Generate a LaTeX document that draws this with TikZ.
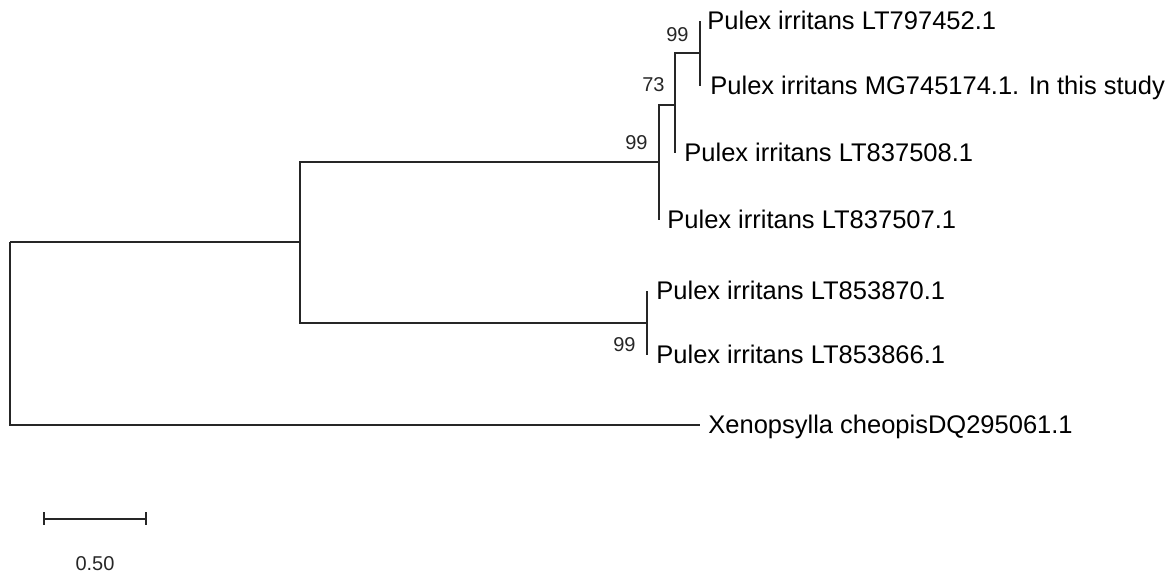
\documentclass[tikz,border=0pt]{standalone}
\usepackage{fontspec}
\setmainfont{Liberation Sans}
\begin{document}
\begin{tikzpicture}[x=0.5pt,y=-0.5pt,
  branch/.style={line width=1pt, draw=black!85},
  leaf/.style={anchor=base west, inner sep=0pt, font=\fontsize{12.75}{15}\selectfont, text=black},
  boot/.style={anchor=base east, inner sep=0pt, font=\fontsize{10}{12}\selectfont, text=black!85}]
\useasboundingbox (0,0) rectangle (1169,577);
% internal nodes
\coordinate (R) at (10,241.7);
\coordinate (A) at (300,241.7);
\coordinate (B) at (659,161.7);
\coordinate (C) at (675,105);
\coordinate (D) at (700,53);
\coordinate (E) at (647,323);
% tips
\coordinate (t1) at (700,21);
\coordinate (t2) at (700,86);
\coordinate (t3) at (675,153);
\coordinate (t4) at (659,220);
\coordinate (t5) at (647,291);
\coordinate (t6) at (647,355);
\coordinate (t7) at (700,425);
% branches
\draw[branch] (R) -- (A);
\draw[branch] (R) |- (t7);
\draw[branch] (A) |- (B);
\draw[branch] (A) |- (E);
\draw[branch] (B) |- (C);
\draw[branch] (B) |- (t4);
\draw[branch] (C) |- (D);
\draw[branch] (C) |- (t3);
\draw[branch] (D) |- (t1);
\draw[branch] (D) |- (t2);
\draw[branch] (E) |- (t5);
\draw[branch] (E) |- (t6);
% leaf labels
\node[leaf] (L1) at (707,30) {Pulex irritans LT797452.1};
\node[leaf] (L2) at (710,95) {Pulex irritans MG745174.1. In this study};
\node[leaf] (L3) at (684,162) {Pulex irritans LT837508.1};
\node[leaf] (L4) at (667,229) {Pulex irritans LT837507.1};
\node[leaf] (L5) at (656,300) {Pulex irritans LT853870.1};
\node[leaf] (L6) at (656,364) {Pulex irritans LT853866.1};
\node[leaf] (L7) at (708,434) {Xenopsylla cheopisDQ295061.1};
% bootstrap values
\node[boot] (bD) at (689,42) {99};
\node[boot] (bC) at (665,92) {73};
\node[boot] (bB) at (648,150) {99};
\node[boot] (bE) at (636,352) {99};
% scale bar
\coordinate (s1) at (44,519);
\coordinate (s2) at (146,519);
\draw[branch] (s1) -- (s2);
\draw[branch] ([yshift=3.25pt]s1) -- ([yshift=-3.25pt]s1);
\draw[branch] ([yshift=3.25pt]s2) -- ([yshift=-3.25pt]s2);
\node[boot, anchor=base] (sl) at (95,571) {0.50};
\end{tikzpicture}
\end{document}
